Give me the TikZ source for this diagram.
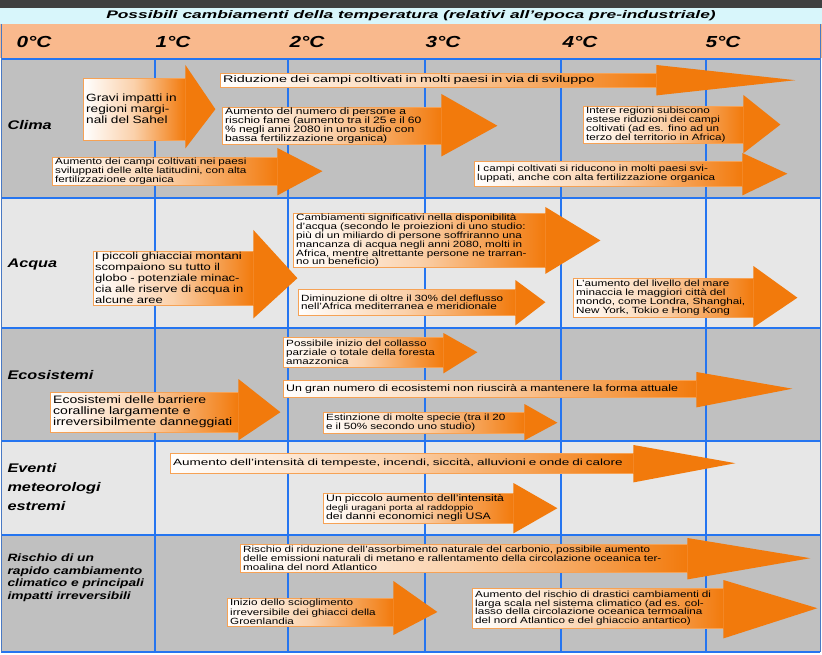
\documentclass[tikz,border=0pt]{standalone}
\usepackage{fontspec}
\setmainfont[FakeStretch=1.3]{Liberation Sans}
\newfontfamily\widesans[FakeStretch=1.5]{Liberation Sans}
\newfontfamily\titlesans[FakeStretch=1.58]{Liberation Sans}
\definecolor{hot}{RGB}{242,122,12}
\definecolor{rowgray}{RGB}{192,192,192}
\definecolor{rowlight}{RGB}{231,231,231}
\definecolor{hdrorange}{RGB}{249,185,141}
\definecolor{titlecyan}{RGB}{216,246,251}
\definecolor{darkbar}{RGB}{64,64,64}
\definecolor{gridblue}{RGB}{37,117,240}

\begin{document}
\begin{tikzpicture}[x=1pt,y=-1pt]
    \tikzstyle{box}=[draw=hot!70,line width=0.4pt,left color=white,right color=hot,middle color=hot!35,anchor=north west,inner xsep=3pt,inner ysep=1pt,align=left,font=\fontsize{9}{8.8}\selectfont]
    \tikzstyle{big}=[font=\fontsize{10.5}{11}\selectfont]
    \tikzstyle{head}=[fill=hot]
    \tikzstyle{temp}=[anchor=west,font=\fontsize{16}{16}\selectfont\bfseries\itshape]
    \tikzstyle{row}=[anchor=west,align=left,font=\fontsize{12.5}{19}\selectfont\bfseries\itshape]
    \tikzstyle{grid}=[gridblue,line width=1.2pt]

    % bands and rows
    \fill[white] (0,0) rectangle (822,655);
    \fill[darkbar] (0,0) rectangle (822,8);
    \fill[titlecyan] (0,8) rectangle (822,24);
    \fill[hdrorange] (0,24) rectangle (822,58);
    \fill[rowgray] (1,59) rectangle (820,198);
    \fill[rowlight] (1,198) rectangle (820,328);
    \fill[rowgray] (1,328) rectangle (820,441);
    \fill[rowlight] (1,441) rectangle (820,535);
    \fill[rowgray] (1,535) rectangle (820,652);
    \foreach \y in {59,198,328,441,535,652}
      \draw[grid] (1,\y) -- (820,\y);
    \foreach \x in {155,288,425,561,706}
      \draw[grid] (\x,59) -- (\x,652);
    \draw[gridblue!60!gray,line width=1pt] (1,24) -- (1,652) (820,24) -- (820,652);

    \node[font=\fontsize{11}{12}\selectfont\titlesans\bfseries\itshape] (title) at (411,16) {Possibili cambiamenti della temperatura (relativi all’epoca pre-industriale)};
    \node[temp] (t0) at (13,42) {0°C};
    \node[temp] (t1) at (152,42) {1°C};
    \node[temp] (t2) at (286,42) {2°C};
    \node[temp] (t3) at (422,42) {3°C};
    \node[temp] (t4) at (559,42) {4°C};
    \node[temp] (t5) at (702,42) {5°C};

    \node[row] (clima) at (4,125) {Clima};
    \node[row] (acqua) at (4,264) {Acqua};
    \node[row] (ecosist) at (4,375) {Ecosistemi};
    \node[row] (eventi) at (4,487) {Eventi\\meteorologi\\estremi};
    \node[row,font=\fontsize{10.6}{12.5}\selectfont\bfseries\itshape] (rischio) at (4,578) {Rischio di un\\rapido cambiamento\\climatico e principali\\impatti irreversibili};

    % Clima
    \node[box,big,minimum width=102pt,minimum height=62pt,text width=96pt] (clgrav) at (83,78) {Gravi impatti in\\regioni margi-\\nali del Sahel};
      \fill[head] ([yshift=13pt]clgrav.north east) -- ([xshift=30pt]clgrav.east) -- ([yshift=-8pt]clgrav.south east) -- cycle;
    \node[box,font=\fontsize{9.6}{9}\selectfont\widesans,minimum width=436pt,minimum height=14pt,text width=430pt] (clrid) at (220,73) {Riduzione dei campi coltivati in molti paesi in via di sviluppo};
      \fill[head] ([yshift=8pt]clrid.north east) -- ([xshift=139pt]clrid.east) -- ([yshift=-8pt]clrid.south east) -- cycle;
    \node[box,font=\fontsize{9.3}{8.8}\selectfont,minimum width=219pt,minimum height=36pt,text width=213pt] (clfame) at (222,107) {Aumento del numero di persone a\\rischio fame (aumento tra il 25 e il 60\\\% negli anni 2080 in uno studio con\\bassa fertilizzazione organica)};
      \fill[head] ([yshift=13pt]clfame.north east) -- ([xshift=56pt]clfame.east) -- ([yshift=-12pt]clfame.south east) -- cycle;
    \node[box,minimum width=160pt,minimum height=34pt,text width=154pt] (clafr) at (583,106) {Intere regioni subiscono\\estese riduzioni dei campi\\coltivati (ad es. fino ad un\\terzo del territorio in Africa)};
      \fill[head] ([yshift=11pt]clafr.north east) -- ([xshift=37pt]clafr.east) -- ([yshift=-10pt]clafr.south east) -- cycle;
    \node[box,minimum width=225pt,minimum height=28pt,text width=219pt] (claum) at (52,157) {Aumento dei campi coltivati nei paesi\\sviluppati delle alte latitudini, con alta\\fertilizzazione organica};
      \fill[head] ([yshift=9pt]claum.north east) -- ([xshift=45pt]claum.east) -- ([yshift=-10pt]claum.south east) -- cycle;
    \node[box,minimum width=268pt,minimum height=25pt,text width=262pt] (clsvil) at (474,161) {I campi coltivati si riducono in molti paesi svi-\\luppati, anche con alta fertilizzazione organica};
      \fill[head] ([yshift=8pt]clsvil.north east) -- ([xshift=45pt]clsvil.east) -- ([yshift=-9pt]clsvil.south east) -- cycle;

    % Acqua
    \node[box,font=\fontsize{10}{11}\selectfont,inner xsep=2pt,minimum width=160pt,minimum height=54pt,text width=156pt] (acghi) at (93,251) {I piccoli ghiacciai montani\\scompaiono su tutto il\\globo - potenziale minac-\\cia alle riserve di acqua in\\alcune aree};
      \fill[head] ([yshift=21pt]acghi.north east) -- ([xshift=44pt]acghi.east) -- ([yshift=-13pt]acghi.south east) -- cycle;
    \node[box,minimum width=252pt,minimum height=53pt,text width=246pt] (acdisp) at (293,213) {Cambiamenti significativi nella disponibilità\\d’acqua (secondo le proiezioni di uno studio:\\più di un miliardo di persone soffriranno una\\mancanza di acqua negli anni 2080, molti in\\Africa, mentre altrettante persone ne trarran-\\no un beneficio)};
      \fill[head] ([yshift=6pt]acdisp.north east) -- ([xshift=55pt]acdisp.east) -- ([yshift=-6pt]acdisp.south east) -- cycle;
    \node[box,minimum width=217pt,minimum height=26pt,text width=211pt] (acdefl) at (298,289) {Diminuzione di oltre il 30\% del deflusso\\nell’Africa mediterranea e meridionale};
      \fill[head] ([yshift=9pt]acdefl.north east) -- ([xshift=30pt]acdefl.east) -- ([yshift=-10pt]acdefl.south east) -- cycle;
    \node[box,minimum width=180pt,minimum height=39pt,text width=174pt] (acmare) at (573,278) {L’aumento del livello del mare\\minaccia le maggiori città del\\mondo, come Londra, Shanghai,\\New York, Tokio e Hong Kong};
      \fill[head] ([yshift=12pt]acmare.north east) -- ([xshift=44pt]acmare.east) -- ([yshift=-10pt]acmare.south east) -- cycle;

    % Ecosistemi
    \node[box,minimum width=160pt,minimum height=30pt,text width=154pt] (ecamaz) at (283,337) {Possibile inizio del collasso\\parziale o totale della foresta\\amazzonica};
      \fill[head] ([yshift=4pt]ecamaz.north east) -- ([xshift=34pt]ecamaz.east) -- ([yshift=-6pt]ecamaz.south east) -- cycle;
    \node[box,font=\fontsize{9.55}{9}\selectfont,minimum width=413pt,minimum height=17pt,text width=407pt] (ecforma) at (283,380) {Un gran numero di ecosistemi non riuscirà a mantenere la forma attuale};
      \fill[head] ([yshift=8pt]ecforma.north east) -- ([xshift=96pt]ecforma.east) -- ([yshift=-10pt]ecforma.south east) -- cycle;
    \node[box,font=\fontsize{10.8}{11}\selectfont,minimum width=188pt,minimum height=40pt,text width=182pt] (eccoral) at (50,392) {Ecosistemi delle barriere\\coralline largamente e\\irreversibilmente danneggiati};
      \fill[head] ([yshift=13pt]eccoral.north east) -- ([xshift=42pt]eccoral.east) -- ([yshift=-8pt]eccoral.south east) -- cycle;
    \node[box,minimum width=201pt,minimum height=21pt,text width=195pt] (ecspec) at (323,412) {Estinzione di molte specie (tra il 20\\e il 50\% secondo uno studio)};
      \fill[head] ([yshift=8pt]ecspec.north east) -- ([xshift=33pt]ecspec.east) -- ([yshift=-7pt]ecspec.south east) -- cycle;

    % Eventi meteorologi estremi
    \node[box,font=\fontsize{9}{9}\selectfont\widesans,minimum width=463pt,minimum height=20pt,text width=457pt] (evint) at (170,453) {Aumento dell’intensità di tempeste, incendi, siccità, alluvioni e onde di calore};
      \fill[head] ([yshift=8pt]evint.north east) -- ([xshift=102pt]evint.east) -- ([yshift=-9pt]evint.south east) -- cycle;
    \node[box,font=\fontsize{9.4}{8.8}\selectfont,minimum width=190pt,minimum height=30pt,text width=184pt] (evurag) at (323,493) {Un piccolo aumento dell’intensità\\{\fontsize{8}{8}\selectfont degli uragani porta al raddoppio}\\dei danni economici negli USA};
      \fill[head] ([yshift=10pt]evurag.north east) -- ([xshift=44pt]evurag.east) -- ([yshift=-10pt]evurag.south east) -- cycle;

    % Rischio
    \node[box,minimum width=447pt,minimum height=28pt,text width=441pt] (riass) at (240,544) {Rischio di riduzione dell’assorbimento naturale del carbonio, possibile aumento\\delle emissioni naturali di metano e rallentamento della circolazione oceanica ter-\\moalina del nord Atlantico};
      \fill[head] ([yshift=6pt]riass.north east) -- ([xshift=123pt]riass.east) -- ([yshift=-7pt]riass.south east) -- cycle;
    \node[box,font=\fontsize{9}{9.5}\selectfont,minimum width=166pt,minimum height=22pt,text width=160pt] (rigroen) at (227,598) {Inizio dello scioglimento\\irreversibile dei ghiacci della\\Groenlandia};
      \fill[head] ([yshift=17pt]rigroen.north east) -- ([xshift=44pt]rigroen.east) -- ([yshift=-9pt]rigroen.south east) -- cycle;
    \node[box,minimum width=251pt,minimum height=40pt,text width=245pt] (ridrast) at (472,588) {Aumento del rischio di drastici cambiamenti di\\larga scala nel sistema climatico (ad es. col-\\lasso della circolazione oceanica termoalina\\del nord Atlantico e del ghiaccio antartico)};
      \fill[head] ([yshift=8pt]ridrast.north east) -- ([xshift=94pt]ridrast.east) -- ([yshift=-10pt]ridrast.south east) -- cycle;

    \useasboundingbox (0,0) rectangle (822,655);
\end{tikzpicture}
\end{document}
